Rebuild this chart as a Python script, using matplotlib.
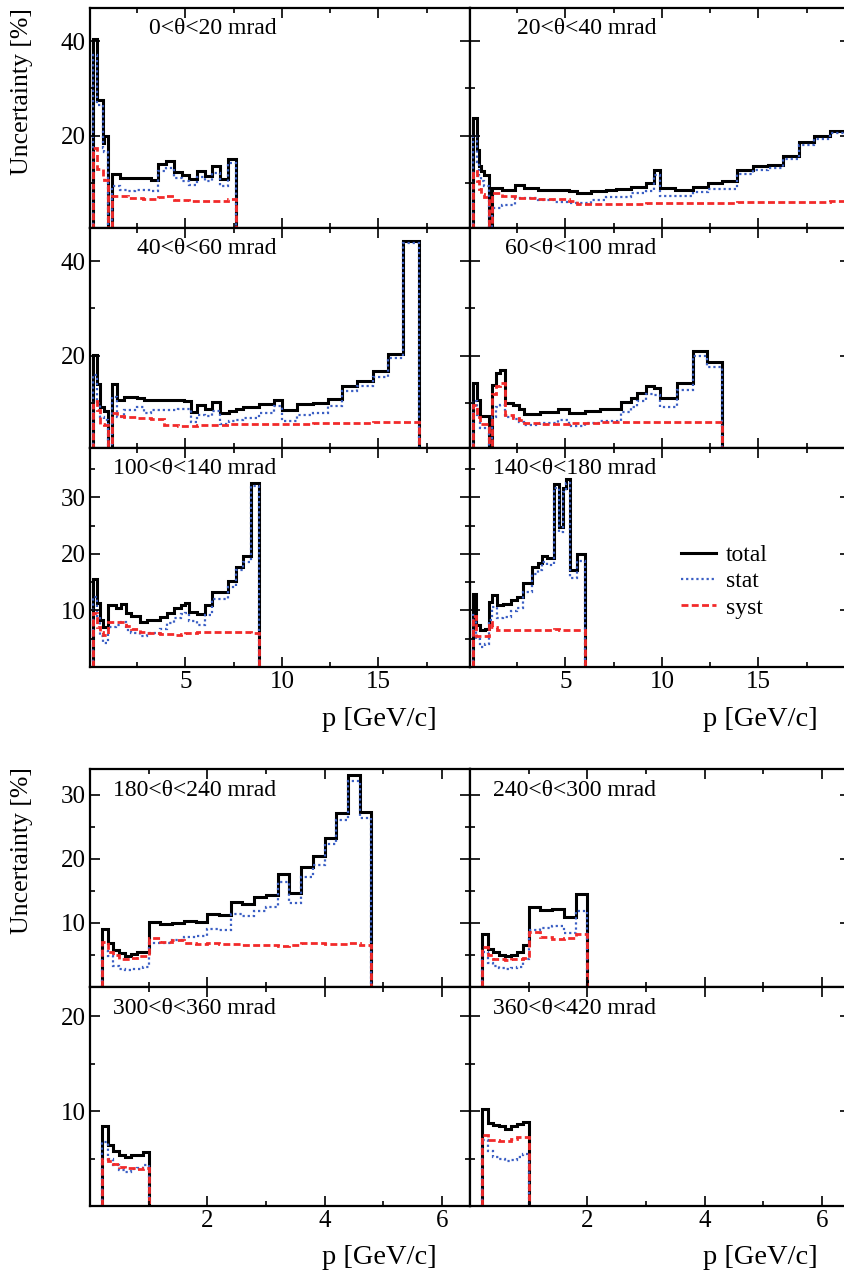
import matplotlib
matplotlib.use('Agg')
from matplotlib import pyplot as plt
from matplotlib.lines import Line2D
from matplotlib.ticker import MultipleLocator, NullFormatter

plt.rcParams['font.family'] = ['Liberation Serif', 'DejaVu Serif']

## Data: uncertainty [%] per momentum bin, one set per theta slice ---------
## (a 0 bin marks the gap between the low-p and high-p analyses)

edges1 = [0.2, 0.4, 0.7, 0.8, 1.0, 1.2, 1.6, 2.0, 2.4, 2.8, 3.2, 3.6, 4.0, 4.4, 4.8, 5.2, 5.6, 6.0, 6.4, 6.8, 7.2, 7.6]
total1 = [40.5, 27.5, 18.5, 20.0, 0, 12.0, 11.1, 11.0, 11.1, 11.0, 10.6, 14.0, 14.7, 12.3, 11.6, 10.9, 12.5, 11.5, 13.6, 10.8, 15.1]
stat1 = [37.0, 26.5, 17.4, 16.5, 0, 9.4, 8.6, 8.4, 8.6, 8.6, 8.4, 12.5, 13.2, 11.0, 10.4, 9.6, 11.3, 10.4, 12.2, 9.4, 14.3]
syst1 = [17.5, 13.0, 11.3, 10.6, 0, 7.3, 7.2, 6.9, 6.8, 6.7, 6.7, 7.1, 7.2, 6.4, 6.4, 6.3, 6.3, 6.3, 6.3, 6.3, 6.6]

edges2 = [0.2, 0.4, 0.5, 0.6, 0.8, 1.05, 1.2, 1.7, 2.4, 2.85, 3.6, 4.4, 5.2, 5.6, 6.3, 7.1, 7.6, 8.4, 9.2, 9.6,
          9.9, 10.7, 11.6, 12.4, 13.1, 13.9, 14.7, 15.5, 16.3, 17.1, 17.9, 18.7, 19.5]
total2 = [23.7, 17.0, 13.5, 12.5, 11.8, 0, 9.0, 8.6, 9.6, 9.0, 8.6, 8.5, 8.3, 8.0, 8.3, 8.5, 8.8, 9.2, 10.0, 12.7,
          9.0, 8.6, 9.2, 10.0, 10.4, 12.7, 13.5, 13.9, 15.8, 18.6, 19.9, 20.9]
stat2 = [20.0, 14.5, 11.5, 10.5, 9.4, 0, 4.8, 5.4, 6.8, 6.8, 6.5, 6.1, 5.8, 5.8, 6.5, 7.1, 7.1, 7.8, 8.4, 11.8,
         7.2, 7.2, 8.2, 8.7, 8.7, 11.9, 12.8, 13.1, 15.0, 18.0, 19.3, 20.5]
syst2 = [12.5, 10.4, 8.7, 7.6, 7.0, 0, 8.0, 7.3, 6.8, 6.8, 6.6, 6.6, 6.3, 5.5, 5.5, 5.5, 5.6, 5.6, 5.7, 5.7,
         5.7, 5.7, 5.8, 5.8, 5.8, 5.9, 5.9, 6.0, 6.0, 6.1, 6.1, 6.2]

edges3 = [0.2, 0.4, 0.55, 0.75, 1.0, 1.2, 1.45, 1.8, 2.5, 2.85, 3.2, 3.9, 4.6, 4.9, 5.3, 5.6, 6.0, 6.4, 6.8,
          7.25, 7.6, 8.0, 8.8, 9.6, 10.0, 10.8, 11.6, 12.4, 13.1, 13.9, 14.7, 15.5, 16.3, 17.1]
total3 = [20.2, 14.1, 9.1, 8.4, 0, 14.0, 10.6, 11.2, 11.0, 10.6, 10.7, 10.6, 10.6, 10.5, 8.1, 9.5, 8.8, 10.2,
          7.9, 8.3, 8.8, 9.2, 9.9, 10.7, 8.6, 9.7, 10.0, 10.9, 13.6, 14.7, 16.8, 20.4, 44.3]
stat3 = [16.0, 10.0, 7.0, 6.5, 0, 11.3, 7.0, 8.5, 9.2, 8.0, 8.5, 8.6, 8.8, 8.8, 5.9, 7.5, 7.2, 8.4,
         5.6, 6.3, 6.5, 6.8, 8.0, 9.4, 6.3, 7.5, 8.0, 9.4, 12.6, 13.6, 15.6, 19.6, 43.9]
syst3 = [10.5, 8.5, 5.5, 5.3, 0, 7.8, 7.3, 7.0, 6.9, 6.8, 6.6, 5.3, 5.2, 5.2, 5.2, 5.3, 5.3, 5.4,
         5.4, 5.5, 5.5, 5.5, 5.6, 5.6, 5.6, 5.6, 5.7, 5.7, 5.8, 5.8, 5.9, 5.9, 6.0]

edges4 = [0.2, 0.4, 0.55, 1.05, 1.2, 1.4, 1.6, 1.85, 2.3, 2.6, 2.85, 3.7, 4.6, 5.2, 6.0, 6.8, 7.9, 8.4, 8.7,
          9.15, 9.6, 9.9, 10.8, 11.6, 12.35, 13.1]
total4 = [14.3, 10.6, 7.35, 0, 13.8, 16.3, 16.9, 10.0, 9.6, 8.7, 7.7, 8.1, 8.8, 7.8, 8.4, 8.8, 10.2, 11.1,
          12.1, 13.5, 13.1, 11.0, 14.2, 20.9, 18.6]
stat4 = [10.5, 7.5, 4.8, 0, 7.0, 9.1, 9.5, 7.1, 6.7, 5.9, 5.3, 5.8, 6.4, 5.1, 5.8, 6.3, 8.1, 9.2,
         10.5, 12.0, 11.6, 9.2, 12.8, 20.0, 17.6]
syst4 = [9.5, 7.0, 5.5, 0, 12.0, 13.5, 14.3, 7.4, 6.8, 6.4, 5.7, 5.5, 5.5, 5.8, 5.8, 6.0, 6.0, 6.0,
         6.0, 6.0, 6.0, 6.0, 6.0, 6.0, 6.0]

edges5 = [0.2, 0.4, 0.55, 0.7, 1.0, 1.4, 1.65, 1.9, 2.15, 2.65, 3.0, 3.7, 4.05, 4.4, 4.75, 5.0, 5.2, 5.6,
          6.0, 6.4, 7.2, 7.6, 8.0, 8.4, 8.8]
total5 = [15.6, 11.3, 8.3, 7.1, 10.9, 10.5, 11.2, 9.6, 9.1, 8.0, 8.3, 8.8, 9.5, 10.5, 10.9, 11.3, 9.7, 9.4,
          11.0, 13.3, 15.2, 17.7, 19.6, 32.5]
stat5 = [12.4, 9.0, 5.5, 4.3, 7.1, 7.5, 7.9, 6.5, 6.0, 5.5, 6.0, 6.8, 7.7, 8.6, 9.3, 9.6, 8.1, 7.5,
         9.2, 12.0, 14.1, 17.1, 18.6, 31.9]
syst5 = [9.5, 7.0, 6.2, 5.7, 7.9, 8.0, 7.9, 7.3, 6.8, 6.1, 6.0, 5.9, 5.8, 5.7, 5.8, 6.0, 6.0, 6.1,
         6.1, 6.2, 6.2, 6.2, 6.1, 6.0]

edges6 = [0.2, 0.35, 0.55, 0.85, 1.05, 1.2, 1.45, 1.75, 2.2, 2.5, 2.8, 3.25, 3.55, 3.8, 4.05, 4.4, 4.65,
          4.85, 5.05, 5.25, 5.6, 6.0]
total6 = [12.9, 7.4, 6.5, 6.8, 11.5, 12.7, 10.9, 11.1, 11.9, 12.4, 14.8, 17.7, 18.4, 19.6, 19.2, 32.4,
          24.7, 31.6, 33.3, 17.1, 19.9]
stat6 = [9.2, 5.0, 3.5, 4.0, 8.3, 10.6, 8.7, 8.9, 9.9, 10.5, 13.3, 16.5, 17.2, 18.5, 18.0, 31.7,
         23.8, 30.9, 32.6, 15.8, 18.8]
syst6 = [9.0, 5.5, 5.5, 5.5, 8.0, 7.0, 6.6, 6.5, 6.5, 6.5, 6.5, 6.5, 6.6, 6.6, 6.6, 6.7,
         6.6, 6.6, 6.6, 6.6, 6.6]

edges7 = [0.2, 0.3, 0.4, 0.5, 0.6, 0.7, 0.8, 0.9, 1.0, 1.2, 1.4, 1.6, 1.8, 2.0, 2.2, 2.4, 2.6, 2.8, 3.0,
          3.2, 3.4, 3.6, 3.8, 4.0, 4.2, 4.4, 4.6, 4.8]
total7 = [9.0, 6.8, 5.8, 5.3, 4.9, 5.2, 5.5, 5.4, 10.1, 9.8, 10.0, 10.3, 10.2, 11.4, 11.2, 13.2, 12.9,
          14.1, 14.3, 17.7, 14.7, 18.7, 20.4, 23.3, 27.1, 33.0, 27.3]
stat7 = [5.6, 4.8, 3.2, 2.8, 2.7, 2.8, 2.8, 3.1, 6.8, 6.9, 7.3, 7.8, 7.9, 9.1, 8.9, 11.4, 11.0,
         11.9, 12.4, 16.3, 13.1, 17.2, 19.1, 22.3, 26.1, 32.2, 26.3]
syst7 = [7.0, 5.5, 5.0, 4.4, 4.4, 4.6, 4.8, 4.8, 7.6, 7.0, 7.3, 6.9, 6.7, 6.8, 6.7, 6.7, 6.6,
         6.6, 6.5, 6.4, 6.5, 6.9, 6.8, 6.7, 6.7, 6.8, 6.5]

edges8 = [0.2, 0.3, 0.4, 0.5, 0.6, 0.7, 0.8, 0.9, 1.0, 1.2, 1.4, 1.6, 1.8, 2.0]
total8 = [8.3, 6.0, 5.4, 5.0, 4.8, 5.0, 5.4, 6.6, 12.5, 12.0, 12.1, 10.9, 14.5]
stat8 = [5.5, 3.7, 3.2, 2.9, 2.8, 2.9, 3.1, 4.4, 8.9, 9.2, 9.5, 8.5, 11.9]
syst8 = [6.2, 5.0, 4.4, 4.3, 4.2, 4.3, 4.4, 4.6, 8.6, 7.8, 7.5, 7.6, 8.3]

edges9 = [0.2, 0.3, 0.4, 0.5, 0.6, 0.7, 0.8, 0.9, 1.0]
total9 = [8.4, 6.4, 5.8, 5.4, 5.2, 5.4, 5.4, 5.7]
stat9 = [6.7, 5.0, 4.3, 3.8, 3.6, 3.9, 4.0, 4.3]
syst9 = [5.0, 4.7, 4.4, 4.1, 4.0, 4.0, 3.9, 4.0]

edges10 = [0.2, 0.3, 0.4, 0.5, 0.6, 0.7, 0.8, 0.9, 1.0]
total10 = [10.2, 8.8, 8.5, 8.4, 8.1, 8.4, 8.7, 8.9]
stat10 = [7.0, 5.8, 5.2, 5.0, 4.7, 4.9, 5.2, 5.5]
syst10 = [7.5, 7.0, 7.0, 6.9, 6.9, 7.1, 7.3, 7.3]

labels = ['0<θ<20 mrad', '20<θ<40 mrad', '40<θ<60 mrad', '60<θ<100 mrad', '100<θ<140 mrad',
          '140<θ<180 mrad', '180<θ<240 mrad', '240<θ<300 mrad', '300<θ<360 mrad', '360<θ<420 mrad']

panels = [(edges1, total1, stat1, syst1), (edges2, total2, stat2, syst2),
          (edges3, total3, stat3, syst3), (edges4, total4, stat4, syst4),
          (edges5, total5, stat5, syst5), (edges6, total6, stat6, syst6),
          (edges7, total7, stat7, syst7), (edges8, total8, stat8, syst8),
          (edges9, total9, stat9, syst9), (edges10, total10, stat10, syst10)]

## Layout (pixel boxes) ---------

W, H = 845, 1273
fig = plt.figure(figsize=(W / 100, H / 100), dpi=100)

cols = [(90, 470), (470, 850)]
rows = [(8, 228), (228, 448), (448, 667), (769, 987), (987, 1206)]
# ylim, major step, minor step for each row
row_y = [((0.5, 47), 20, 10), ((0.5, 47), 20, 10), ((0, 38.7), 10, 5),
         ((0, 34), 10, 5), ((0, 23.1), 10, 5)]

C_TOT = 'black'
C_STAT = '#3b5fc4'
C_SYST = '#f22a2a'

for i, (edges, total, stat, syst) in enumerate(panels):
    r, c = divmod(i, 2)
    x0, x1 = cols[c]
    y0, y1 = rows[r]
    ax = fig.add_axes([x0 / W, 1 - y1 / H, (x1 - x0) / W, (y1 - y0) / H])

    ax.stairs(total, edges, baseline=0, color=C_TOT, lw=2.2)
    ax.stairs(stat, edges, baseline=0, color=C_STAT, lw=1.6, linestyle=(0, (1, 1.3)))
    ax.stairs(syst, edges, baseline=0, color=C_SYST, lw=2.0, linestyle=(0, (2.5, 1.2)))

    top_block = r < 3
    if top_block:
        ax.set_xlim(0.05, 19.75)
        ax.xaxis.set_major_locator(MultipleLocator(5))
        ax.xaxis.set_minor_locator(MultipleLocator(2.5))
    else:
        ax.set_xlim(0, 6.48)
        ax.xaxis.set_major_locator(MultipleLocator(2))
        ax.xaxis.set_minor_locator(MultipleLocator(1))
    ylim, ymaj, ymin = row_y[r]
    ax.set_ylim(*ylim)
    ax.yaxis.set_major_locator(MultipleLocator(ymaj))
    ax.yaxis.set_minor_locator(MultipleLocator(ymin))

    ax.tick_params(which='both', direction='in', top=True, right=True, width=1.2, labelsize=18)
    ax.tick_params(which='major', length=7, pad=3)
    ax.tick_params(which='minor', length=3.5)
    for s in ax.spines.values():
        s.set_linewidth(1.6)

    # tick labels only on outer edges, no label at 0
    last_row = r in (2, 4)
    if not last_row:
        ax.xaxis.set_major_formatter(NullFormatter())
    else:
        ax.set_xticks([t for t in ax.get_xticks() if t > 0.5 and t < ax.get_xlim()[1]])
    if c == 1:
        ax.yaxis.set_major_formatter(NullFormatter())
    else:
        ax.set_yticks([t for t in ax.get_yticks() if t > 0.5 and t < ylim[1]])

    ax.text(0.49, 1 - 21 / (y1 - y0), labels[i], transform=ax.transAxes,
            ha='right', va='center', fontsize=17)

    if i == 5:
        handles = [Line2D([], [], color=C_TOT, lw=2.2),
                   Line2D([], [], color=C_STAT, lw=1.6, linestyle=(0, (1, 1.3))),
                   Line2D([], [], color=C_SYST, lw=2.0, linestyle=(0, (2.5, 1.2)))]
        ax.legend(handles, ['total', 'stat', 'syst'], loc='center left',
                  bbox_to_anchor=(0.555, 0.39), frameon=False, fontsize=17,
                  handlelength=1.5, handletextpad=0.4, labelspacing=0.2,
                  borderpad=0, borderaxespad=0)

## Axis titles ---------
for ytop in (8, 767):
    fig.text(22 / W, 1 - ytop / H, 'Uncertainty [%]', rotation=90,
             ha='center', va='top', fontsize=18.5)
for yc in (719, 1258):
    for xr in (437, 818):
        fig.text(xr / W, 1 - yc / H, 'p [GeV/c]', ha='right', va='center', fontsize=20.5)

fig.savefig('out.png', dpi=100)
